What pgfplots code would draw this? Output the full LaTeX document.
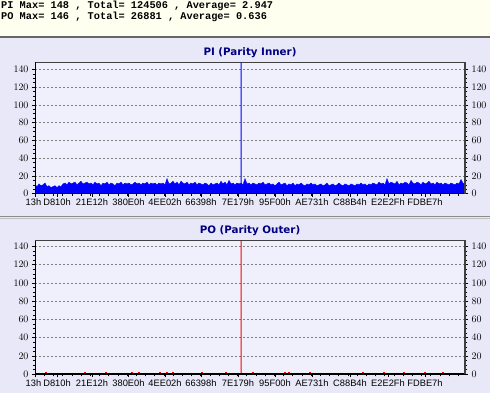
\documentclass[border=0pt]{standalone}
\usepackage{fontspec}
\setmainfont{Liberation Sans}
\newfontfamily\monofont{Liberation Mono}
\newfontfamily\titlefont{DejaVu Sans}
\usepackage{pgfplots}
\pgfplotsset{compat=1.18}
\definecolor{panelbg}{RGB}{232,232,248}
\definecolor{plotbg}{RGB}{240,240,252}
\definecolor{headbg}{RGB}{255,255,240}
\definecolor{navy}{RGB}{0,0,128}
\definecolor{pblue}{RGB}{0,0,255}
\definecolor{pred}{RGB}{255,0,0}
\pgfplotsset{
  panel/.style={
    scale only axis, width=430bp, xmin=0, xmax=430, ymin=0,
    axis background/.style={fill=plotbg},
    xtick={0,22,57,93.5,130,166,203,240,277,315,353,390},
    xticklabels={\hspace*{-3bp}13h,D810h,21E12h,380E0h,4EE02h,66398h,7E179h,95F00h,AE731h,C88B4h,E2E2Fh,FDBE7h},
    minor xtick={0,9.2,...,430},
    ytick={0,20,...,140}, minor y tick num=3,
    ymajorgrids, grid style={dash pattern=on 2bp off 2bp, gray, line width=0.6bp},
    tick align=outside, major tick length=3bp, minor tick length=2bp,
    tick style={black, line width=0.6bp},
    ticklabel style={font=\fontsize{9.6bp}{10bp}\selectfont},
    xticklabel style={yshift=1bp, font=\fontsize{9.3bp}{10bp}\selectfont},
    axis line style={draw=black!75, line width=1bp},
    xtick pos=bottom, ytick pos=left,
  },
  rightpanel/.style={
    scale only axis, width=430bp, xmin=0, xmax=430, ymin=0,
    hide x axis, axis y line*=right,
    ytick={0,20,...,140}, minor y tick num=3,
    tick align=outside, major tick length=3bp, minor tick length=2bp,
    tick style={black, line width=0.6bp},
    ticklabel style={font=\fontsize{9.6bp}{10bp}\selectfont},
    axis line style={draw=black!75, line width=1.2bp},
  }
}
\begin{document}
\begin{tikzpicture}
\useasboundingbox (0,0) rectangle (490bp,393bp);
\fill[panelbg] (0,0) rectangle (490bp,393bp);
\fill[headbg] (0,356bp) rectangle (490bp,393bp);
\draw[black!60, line width=1.5bp] (0,356bp) -- (490bp,356bp);
\draw[black!45, line width=1bp] (0,176.5bp) -- (490bp,176.5bp);
\draw[black!25, line width=1bp] (0,174.5bp) -- (490bp,174.5bp);
\node[anchor=base west, inner sep=0] at (1bp,384.5bp) {\monofont\fontsize{10.3bp}{12bp}\selectfont\bfseries PI Max= 148 , Total= 124506 , Average= 2.947};
\node[anchor=base west, inner sep=0] at (1bp,373bp) {\monofont\fontsize{10.3bp}{12bp}\selectfont\bfseries PO Max= 146 , Total= 26881 , Average= 0.636};
\node[text=navy, inner sep=0] at (250bp,340.5bp) {\titlefont\fontsize{10.3bp}{12bp}\selectfont\bfseries PI (Parity Inner)};
\node[text=navy, inner sep=0] at (250bp,162bp) {\titlefont\fontsize{10.3bp}{12bp}\selectfont\bfseries PO (Parity Outer)};

% ---------- PI panel ----------
\begin{axis}[panel, at={(35bp,199.3bp)}, anchor=south west, height=131.4bp, ymax=148]
\addplot[draw=pblue, fill=pblue, line width=0.4bp] coordinates {
(0,10) (2,8) (4,11) (6,9) (8,10) (10,12) (12,8) (14,9) (16,7) (18,8) (20,9) (22,7) (24,9) (26,8) (28,11) (30,12) (32,10) (34,13) (36,11) (38,12)
(40,13) (42,10) (44,12) (46,14) (48,11) (50,12) (52,13) (54,11) (56,12) (58,10) (60,13) (62,11) (64,12) (66,9) (68,12) (70,11) (72,13) (74,10) (76,12) (78,11)
(80,9) (82,12) (84,11) (86,13) (88,10) (90,12) (92,11) (94,12) (96,10) (98,11) (100,13) (102,11) (104,12) (106,10) (108,12) (110,11) (112,13) (114,10) (116,12) (118,11)
(120,12) (122,10) (124,12) (126,11) (128,12) (130,10) (132,17) (134,11) (136,12) (138,14) (140,11) (142,13) (144,10) (146,14) (148,12) (150,11) (152,13) (154,10) (156,12) (158,11)
(160,13) (162,10) (164,12) (166,11) (168,10) (170,12) (172,11) (174,9) (176,12) (178,10) (180,11) (182,12) (184,10) (186,14) (188,11) (190,13) (192,10) (194,15) (196,11) (198,12)
(200,10) (202,12) (204,11) (206,12) (208,10) (210,17) (212,11) (214,12) (216,10) (218,12) (220,11) (222,10) (224,12) (226,11) (228,13) (230,10) (232,11) (234,12) (236,10) (238,11)
(240,9) (242,11) (244,13) (246,10) (248,11) (250,12) (252,9) (254,11) (256,10) (258,12) (260,9) (262,11) (264,10) (266,12) (268,10) (270,9) (272,11) (274,10) (276,12) (278,10)
(280,11) (282,9) (284,10) (286,11) (288,9) (290,10) (292,12) (294,9) (296,10) (298,11) (300,9) (302,10) (304,12) (306,10) (308,9) (310,11) (312,10) (314,9) (316,11) (318,10)
(320,9) (322,11) (324,10) (326,12) (328,10) (330,11) (332,9) (334,11) (336,10) (338,12) (340,11) (342,10) (344,13) (346,11) (348,12) (350,10) (352,17) (354,11) (356,13) (358,12)
(360,11) (362,14) (364,10) (366,12) (368,11) (370,13) (372,12) (374,10) (376,15) (378,12) (380,11) (382,13) (384,12) (386,10) (388,13) (390,11) (392,12) (394,14) (396,11) (398,12)
(400,10) (402,13) (404,11) (406,12) (408,10) (410,12) (412,11) (414,10) (416,12) (418,11) (420,10) (422,12) (424,11) (426,16) (428,12) (430,11)
} \closedcycle;
\addplot[fill=pblue, draw=none, forget plot] coordinates {(205.5,0) (206.5,0) (206.5,148) (205.5,148)} \closedcycle;
\draw[black, line width=2bp] (rel axis cs:0,0) -- (rel axis cs:0,1);
\draw[black, line width=2bp] (rel axis cs:0,0) -- (rel axis cs:1,0);
\end{axis}
\begin{axis}[rightpanel, at={(35bp,199.3bp)}, anchor=south west, height=131.4bp, ymax=148]
\end{axis}

% ---------- PO panel ----------
\begin{axis}[panel, at={(35bp,18.7bp)}, anchor=south west, height=133.3bp, ymax=146]
\addplot[pred, ycomb, line width=1.2bp] coordinates {
(11,2) (50,2) (71,2) (97,2) (104,2) (125,2) (132,2) (138,2) (167,2) (191,3) (218,2) (250,2) (254,2) (275,2) (328,2) (349,2) (369,2) (390,2) (408,2)
};
\addplot[fill=pred, draw=none, forget plot] coordinates {(205.5,0) (206.5,0) (206.5,146) (205.5,146)} \closedcycle;
\draw[black, line width=2bp] (rel axis cs:0,0) -- (rel axis cs:0,1);
\draw[black, line width=2bp] (rel axis cs:0,0) -- (rel axis cs:1,0);
\end{axis}
\begin{axis}[rightpanel, at={(35bp,18.7bp)}, anchor=south west, height=133.3bp, ymax=146]
\end{axis}
\end{tikzpicture}
\end{document}
